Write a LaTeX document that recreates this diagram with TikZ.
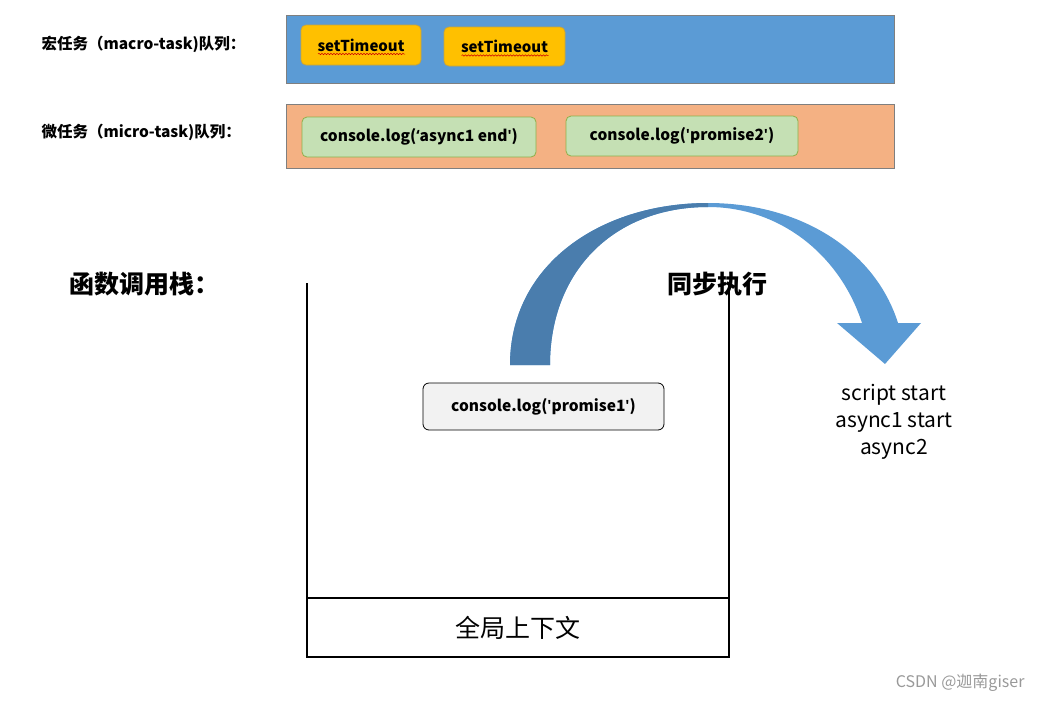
\documentclass[tikz,border=0pt]{standalone}
\usepackage{fontspec}
\setmainfont{Noto Sans CJK SC}
\newfontfamily\quotefont{Open Sans}
\usepackage{tikz}
\usetikzlibrary{positioning,decorations.pathmorphing}
\definecolor{macroblue}{HTML}{5B9BD5}
\definecolor{arrowdark}{HTML}{4A7DAD}
\definecolor{microsalmon}{HTML}{F4B183}
\definecolor{timergold}{HTML}{FFC000}
\definecolor{goldedge}{HTML}{C9A43A}
\definecolor{taskgreen}{HTML}{C5E0B4}
\definecolor{greenedge}{HTML}{8FB04A}
\definecolor{stackgrey}{HTML}{F2F2F2}
\definecolor{queueedge}{HTML}{7F7F7F}
\newcommand{\sq}{{\quotefont\char"27}}
\newcommand{\oq}{{\quotefont\char"2018}}

\begin{document}
\begin{tikzpicture}[x=1pt, y=-1pt,
    queue/.style={draw=queueedge, line width=0.6pt, minimum width=608pt, inner sep=0pt},
    timerbox/.style={fill=timergold, draw=goldedge, line width=0.8pt, rounded corners=5pt, inner sep=0pt,
      font=\fontsize{15}{18}\selectfont\bfseries},
    taskbox/.style={fill=taskgreen, draw=greenedge, line width=0.8pt, rounded corners=5pt, inner sep=0pt,
      minimum height=40pt, font=\fontsize{15.5}{18}\selectfont\bfseries},
    qlabel/.style={anchor=west, font=\fontsize{15.5}{18}\selectfont\bfseries},
    biglabel/.style={font=\fontsize{25}{30}\selectfont\bfseries},
    stackline/.style={black, line width=1.8pt},
    spellwave/.style={red!80!black, line width=0.5pt, decorate,
      decoration={snake, amplitude=0.7pt, segment length=3pt}}]
  \useasboundingbox (0,0) rectangle (1042,702);

  % task queues
  \node[queue, fill=macroblue, minimum height=68pt] (macroq) at (590,49) {};
  \node[queue, fill=microsalmon, minimum height=64pt] (microq) at (590,136) {};
  \node[qlabel] (macrolabel) at (38,44) {宏任务（macro-task)队列：};
  \node[qlabel] (microlabel) at (38,132) {微任务（micro-task)队列：};

  \node[timerbox, minimum width=120pt, minimum height=40pt] (st1) at (361,45) {setTimeout};
  \node[timerbox, minimum width=121pt, minimum height=39pt] (st2) at (504.5,46.5) {setTimeout};
  \draw[spellwave] ([shift={(-43,9)}]st1.center) -- ++(87,0);
  \draw[spellwave] ([shift={(-43,9)}]st2.center) -- ++(87,0);

  \node[taskbox, minimum width=234pt] (asyncend) at (419,137) {console.log(\oq async1 end\sq)};
  \node[taskbox, minimum width=232pt] (prom2) at (682,136) {console.log(\sq promise2\sq)};

  % call stack
  \node[biglabel, anchor=west] (stacklabel) at (66,284) {函数调用栈：};
  \draw[stackline] (307,283) -- (307,657) -- (729,657) -- (729,283);
  \draw[stackline] (307,598) -- (729,598);
  \node[font=\fontsize{25}{30}\selectfont] (global) at (518,628) {全局上下文};
  \node[fill=stackgrey, draw=black, line width=0.8pt, rounded corners=6pt, inner sep=0pt,
    minimum width=241pt, minimum height=47pt, font=\fontsize{15.5}{18}\selectfont\bfseries]
    (prom1) at (543.5,406.5) {console.log(\sq promise1\sq)};

  % curved arrow
  \fill[macroblue] (510,365) .. controls (510,265) and (600,203) .. (708,203)
    .. controls (800,203) and (875,250) .. (898,323) -- (921,323) -- (885,364) -- (837,323) -- (862,323)
    .. controls (840,255) and (780,207) .. (708,207)
    .. controls (615,207) and (550,270) .. (550,365) -- cycle;
  \fill[arrowdark] (510,365) .. controls (510,265) and (600,203) .. (708,203)
    -- (708,207) .. controls (615,207) and (550,270) .. (550,365) -- cycle;
  \node[biglabel] (synclabel) at (717,284) {同步执行};

  \node[align=center, font=\fontsize{21}{27}\selectfont] (output) at (894,422)
    {script start\\async1 start\\async2};

  \node[anchor=east, text=gray!80, font=\fontsize{16}{19}\selectfont] (mark) at (1028,683) {CSDN @迦南giser};
\end{tikzpicture}
\end{document}
